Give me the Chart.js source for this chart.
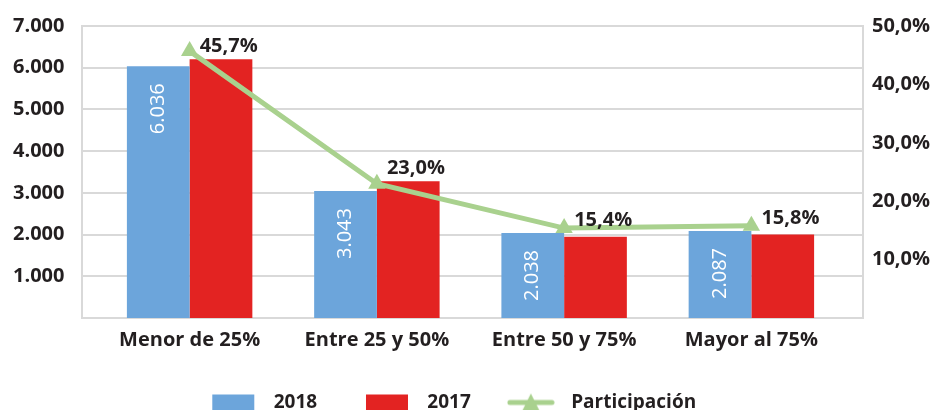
<!DOCTYPE html>
<html>
<head>
<meta charset="utf-8">
<script src="https://cdn.jsdelivr.net/npm/chart.js@4.4.1/dist/chart.umd.min.js"></script>
<style>
    html, body { margin: 0; padding: 0; background: #fff; overflow: hidden; }
    #wrap { width: 934px; height: 422px; }
</style>
</head>
<body>
<div id="wrap"><canvas id="chart" width="934" height="422"></canvas></div>
<script>
// data
var categories = ['Menor de 25%', 'Entre 25 y 50%', 'Entre 50 y 75%', 'Mayor al 75%'];
var values2018 = [6036, 3043, 2038, 2087];
var values2017 = [6200, 3280, 1950, 2000];
var participacion = [45.7, 23.0, 15.4, 15.8];
var seriesNames = ['2018', '2017', 'Participación'];

var blue = '#6ca5db';
var red = '#e32322';
var green = '#a9d18e';
var textColor = '#231f20';
var gridColor = '#d9d9d9';
var fontFamily = '"Open Sans", sans-serif';

// vertical nudge of each percentage label (the original was hand placed)
var labelDy = [-5, -15, -8, -7];

function fmtThousands(v) {
    return String(v).replace(/\B(?=(\d{3})+(?!\d))/g, '.');
}

function fmtPercent(v) {
    return v.toFixed(1).replace('.', ',') + '%';
}

// legend icon for the line series: a line with a triangle marker on it
function lineIcon() {
    var c = document.createElement('canvas');
    c.width = 48;
    c.height = 22;
    var g = c.getContext('2d');
    g.strokeStyle = green;
    g.lineWidth = 5;
    g.lineCap = 'round';
    g.beginPath();
    g.moveTo(3, 11);
    g.lineTo(45, 11);
    g.stroke();
    g.fillStyle = green;
    g.beginPath();
    g.moveTo(24, 2);
    g.lineTo(33, 20);
    g.lineTo(15, 20);
    g.closePath();
    g.fill();
    return c;
}

// grid lines + frame, a bit wider than the category area like the original
var framePlugin = {
    id: 'frame',
    beforeDatasetsDraw: function(chart) {
        var ctx = chart.ctx;
        var area = chart.chartArea;
        var y = chart.scales.y;
        var left = area.left - 14;
        var right = area.right + 18;
        ctx.save();
        ctx.strokeStyle = gridColor;
        ctx.lineWidth = 2;
        ctx.beginPath();
        y.ticks.forEach(function(t) {
            var py = Math.round(y.getPixelForValue(t.value));
            ctx.moveTo(left - 1, py);
            ctx.lineTo(right + 1, py);
        });
        ctx.moveTo(left, area.top);
        ctx.lineTo(left, area.bottom);
        ctx.moveTo(right, area.top);
        ctx.lineTo(right, area.bottom);
        ctx.stroke();
        ctx.restore();
    }
};

var labelsPlugin = {
    id: 'valueLabels',
    afterDatasetsDraw: function(chart) {
        var ctx = chart.ctx;
        ctx.save();
        // 2018 values, rotated inside the blue bars
        ctx.font = 'normal 20px ' + fontFamily;
        ctx.fillStyle = '#fff';
        ctx.textAlign = 'right';
        ctx.textBaseline = 'middle';
        chart.getDatasetMeta(0).data.forEach(function(bar, i) {
            ctx.save();
            ctx.translate(bar.x, bar.y + 17);
            ctx.rotate(-Math.PI / 2);
            ctx.fillText(fmtThousands(values2018[i]), 0, 0);
            ctx.restore();
        });
        // participation labels, up and to the right of each marker
        ctx.font = '700 20px ' + fontFamily;
        ctx.fillStyle = textColor;
        ctx.textAlign = 'left';
        chart.getDatasetMeta(2).data.forEach(function(pt, i) {
            ctx.fillText(fmtPercent(participacion[i]), pt.x + 10, pt.y + labelDy[i]);
        });
        ctx.restore();
    }
};

var tickFont = { family: fontFamily, size: 20, weight: '700' };

new Chart(document.getElementById('chart'), {
    data: {
        labels: categories,
        datasets: [{
            type: 'bar',
            label: seriesNames[0],
            data: values2018,
            backgroundColor: blue,
            yAxisID: 'y',
            order: 1,
            categoryPercentage: 0.67,
            barPercentage: 1
        }, {
            type: 'bar',
            label: seriesNames[1],
            data: values2017,
            backgroundColor: red,
            yAxisID: 'y',
            order: 2,
            categoryPercentage: 0.67,
            barPercentage: 1
        }, {
            type: 'line',
            label: seriesNames[2],
            data: participacion,
            borderColor: green,
            backgroundColor: green,
            borderWidth: 5,
            pointStyle: 'triangle',
            pointRadius: 10,
            pointHoverRadius: 10,
            pointBorderWidth: 0,
            yAxisID: 'y1',
            order: 0
        }]
    },
    options: {
        responsive: false,
        animation: false,
        layout: {
            padding: { top: 26, right: 4, left: 13, bottom: 0 }
        },
        plugins: {
            tooltip: { enabled: false },
            legend: {
                position: 'bottom',
                labels: {
                    usePointStyle: true,
                    pointStyleWidth: 42,
                    boxHeight: 16,
                    padding: 39,
                    color: textColor,
                    font: { family: fontFamily, size: 19, weight: '700' },
                    sort: function(a, b) { return a.datasetIndex - b.datasetIndex; },
                    generateLabels: function(chart) {
                        var items = Chart.defaults.plugins.legend.labels.generateLabels(chart);
                        items.forEach(function(item) {
                            item.lineWidth = 0;
                            item.rotation = 0;
                            item.pointStyle = item.datasetIndex === 2 ? lineIcon() : 'rect';
                            item.text = '  ' + item.text;
                            // spacing tweaks so the row lines up with the original
                            if (item.datasetIndex === 0) item.text += '  ';
                            if (item.datasetIndex === 2) item.text += '       ';
                        });
                        return items;
                    }
                }
            }
        },
        scales: {
            x: {
                grid: { display: false, drawTicks: false },
                border: { display: false },
                ticks: { color: textColor, font: tickFont, padding: 10 },
                afterFit: function(scale) { scale.height = 36; }
            },
            y: {
                position: 'left',
                min: 0,
                max: 7000,
                grid: { display: false, drawTicks: false },
                border: { display: false },
                ticks: {
                    stepSize: 1000,
                    padding: 0,
                    crossAlign: 'far',
                    color: textColor,
                    font: tickFont,
                    callback: function(v) { return v === 0 ? '' : fmtThousands(v); }
                },
                afterFit: function(scale) { scale.width = 83; }
            },
            y1: {
                position: 'right',
                min: 0,
                max: 50,
                grid: { display: false, drawTicks: false },
                border: { display: false },
                ticks: {
                    stepSize: 10,
                    padding: 0,
                    crossAlign: 'far',
                    color: textColor,
                    font: tickFont,
                    callback: function(v) { return v === 0 ? '' : fmtPercent(v); }
                },
                afterFit: function(scale) { scale.width = 85; }
            }
        }
    },
    plugins: [framePlugin, labelsPlugin]
});
</script>
</body>
</html>
